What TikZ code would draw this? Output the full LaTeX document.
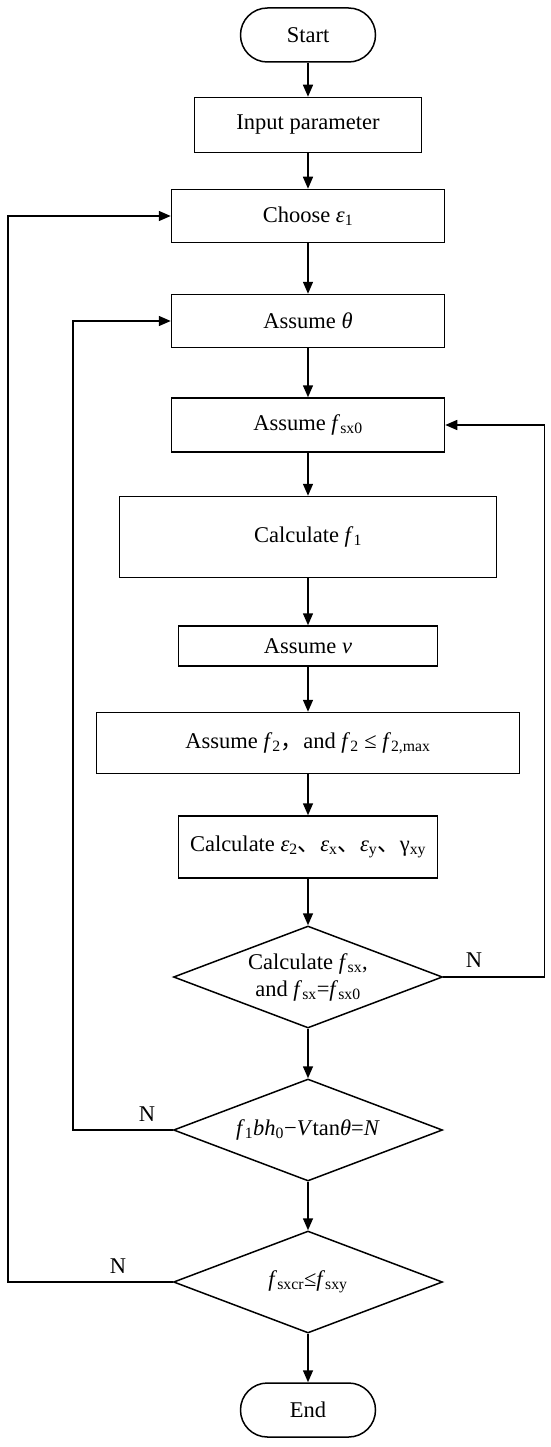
\documentclass[tikz,border=0pt]{standalone}
\usepackage{fontspec}
\setmainfont{Liberation Serif}
\newfontfamily\cjk{Noto Sans CJK SC}
\usetikzlibrary{arrows.meta,positioning,shapes.geometric}
\newcommand{\sub}[1]{\textsubscript{#1}}
\newcommand{\vi}[1]{\textit{#1}}

\begin{document}
\begin{tikzpicture}[x=1pt,y=-1pt,>={Triangle[length=12pt,width=10pt]},
    every node/.style={font=\fontsize{22.5}{27}\selectfont},
    line/.style={line width=1.5pt},
    block/.style={draw, line width=1.5pt, rectangle, inner sep=0pt},
    term/.style={draw, line width=1.5pt, rectangle, rounded corners=26.9pt, minimum width=135pt, minimum height=54pt},
    decision/.style={draw, line width=1.5pt, diamond, inner sep=0pt, minimum width=269pt, minimum height=102pt}]

    \useasboundingbox (0,0) rectangle (550,1447);

    \node[term] (start) at (308,35) {Start};
    \node[block, minimum width=227pt, minimum height=55pt] (input) at (308,125) {Input parameter};
    \node[block, minimum width=273pt, minimum height=53pt] (choose) at (308,216) {Choose \vi{ε}\sub{1}};
    \node[block, minimum width=273pt, minimum height=53pt] (theta) at (308,321) {Assume \vi{θ}};
    \node[block, minimum width=273pt, minimum height=54pt] (fsx) at (308,425) {Assume \vi{f}\sub{sx0}};
    \node[block, minimum width=377pt, minimum height=81pt] (calcf) at (308,537) {Calculate \vi{f}\sub{1}};
    \node[block, minimum width=259pt, minimum height=40pt] (nu) at (308,646) {Assume \vi{v}};
    \node[block, minimum width=423pt, minimum height=61pt] (ftwo) at (308,743) {Assume \vi{f}\sub{2}{\cjk ，}and \vi{f}\sub{2} ≤ \vi{f}\sub{2,max}};
    \node[block, minimum width=259pt, minimum height=62pt] (strain) at (308,847) {Calculate \vi{ε}\sub{2}{\cjk 、}\vi{ε}\sub{x}{\cjk 、}\vi{ε}\sub{y}{\cjk 、}γ\sub{xy}};

    % decisions
    \node[decision] (d1) at (308,977) {};
    \node[align=center, inner sep=0pt] (d1t) at (d1) {Calculate \vi{f}\sub{sx},\\and \vi{f}\sub{sx}=\vi{f}\sub{sx0}};
    \node[decision] (d2) at (308,1130) {};
    \node[inner sep=0pt] (d2t) at (d2) {\vi{f}\sub{1}\vi{bh}\sub{0}−\vi{V}tan\vi{θ}=\vi{N}};
    \node[decision] (d3) at (308,1282) {};
    \node[inner sep=0pt] (d3t) at (d3) {\vi{f}\sub{sxcr}≤\vi{f}\sub{sxy}};

    \node[term] (end) at (308,1410) {End};

    \draw[line,->] (start) -- (input);
    \draw[line,->] (input) -- (choose);
    \draw[line,->] (choose) -- (theta);
    \draw[line,->] (theta) -- (fsx);
    \draw[line,->] (fsx) -- (calcf);
    \draw[line,->] (calcf) -- (nu);
    \draw[line,->] (nu) -- (ftwo);
    \draw[line,->] (ftwo) -- (strain);
    \draw[line,->] (strain) -- (d1);
    \draw[line,->] (d1) -- (d2);
    \draw[line,->] (d2) -- (d3);
    \draw[line,->] (d3) -- (end);

    % loops back
    \draw[line,->] (d1.east) -- ++(101,0) |- (fsx.east);
    \draw[line,->] (d2.west) -- ++(-100,0) |- (theta.west);
    \draw[line,->] (d3.west) -- ++(-165,0) |- (choose.west);

    \node (n1) at (474,960) {N};
    \node (n2) at (147,1114) {N};
    \node (n3) at (118,1266) {N};

\end{tikzpicture}
\end{document}
